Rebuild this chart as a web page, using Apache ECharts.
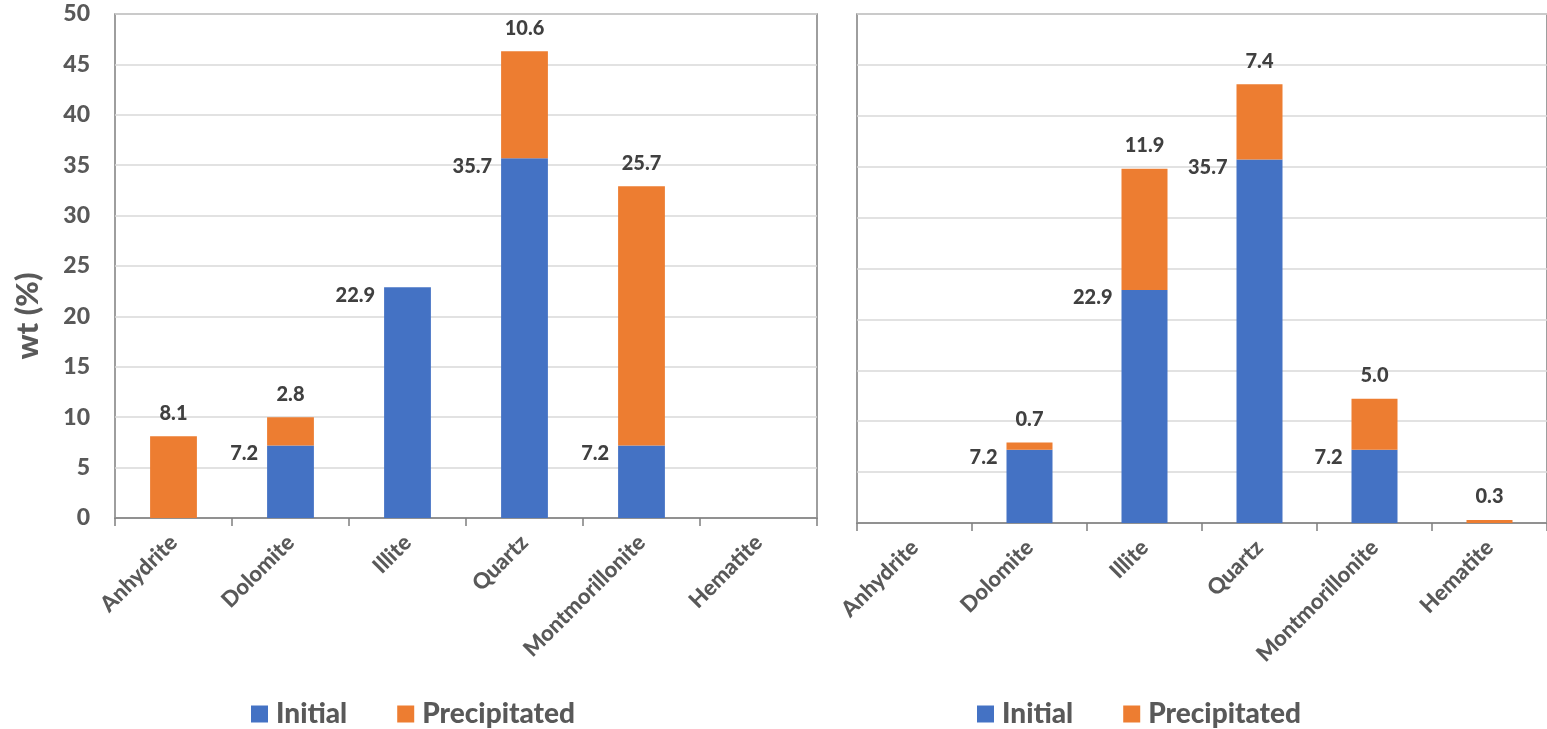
<!DOCTYPE html>
<html>
<head>
<meta charset="utf-8">
<script src="https://cdn.jsdelivr.net/npm/echarts@6/dist/echarts.min.js"></script>
<style>
  html, body { margin: 0; padding: 0; background: #ffffff; }
  #chart { width: 1547px; height: 729px; }
</style>
</head>
<body>
<div id="chart"></div>
<script>
// Mineral composition (wt %) for two cases, each a stacked bar of initial + precipitated amounts
const minerals = ['Anhydrite', 'Dolomite', 'Illite', 'Quartz', 'Montmorillonite', 'Hematite'];
const yTicks = [0, 5, 10, 15, 20, 25, 30, 35, 40, 45, 50];

const initialA = [0, 7.2, 22.9, 35.7, 7.2, 0];
const precipitatedA = [8.1, 2.8, 0, 10.6, 25.7, 0];

const initialB = [0, 7.2, 22.9, 35.7, 7.2, 0];
const precipitatedB = [0, 0.7, 11.9, 7.4, 5.0, 0.3];

const FONT = 'Lato';
const WEIGHT = 900;
const BLUE = '#4472C4';
const ORANGE = '#ED7D31';

const chart = echarts.init(document.getElementById('chart'));

function fmtNonZero(p) {
  return p.value > 0 ? p.value.toFixed(1) : '';
}

const initialLabel = {
  show: true,
  position: [-9, 8],
  align: 'right',
  verticalAlign: 'middle',
  formatter: fmtNonZero,
  color: '#404040',
  fontFamily: FONT,
  fontWeight: WEIGHT,
  fontSize: 20
};

const precipLabel = {
  show: true,
  position: 'top',
  distance: 13,
  formatter: fmtNonZero,
  color: '#404040',
  fontFamily: FONT,
  fontWeight: WEIGHT,
  fontSize: 20
};

function xAxisFor(gridIndex) {
  return {
    type: 'category',
    gridIndex: gridIndex,
    data: minerals,
    axisLine: { lineStyle: { color: '#7f7f7f', width: 1.5 } },
    axisTick: { show: true, length: 8, lineStyle: { color: '#7f7f7f', width: 1.5 } },
    axisLabel: {
      rotate: 45,
      margin: 21,
      color: '#595959',
      fontFamily: FONT,
      fontWeight: WEIGHT,
      fontSize: 22
    }
  };
}

function yAxisFor(gridIndex, showLabels) {
  return {
    type: 'value',
    gridIndex: gridIndex,
    min: yTicks[0],
    max: yTicks[yTicks.length - 1],
    interval: yTicks[1] - yTicks[0],
    axisLine: { show: false },
    axisTick: { show: false },
    splitLine: { lineStyle: { color: '#d9d9d9', width: 1.5 } },
    axisLabel: {
      show: showLabels,
      margin: 25,
      color: '#595959',
      fontFamily: FONT,
      fontWeight: WEIGHT,
      fontSize: 23
    }
  };
}

function legendAt(left) {
  return {
    left: left,
    top: 695,
    icon: 'rect',
    itemWidth: 17,
    itemHeight: 17,
    itemGap: 50,
    textStyle: {
      color: '#595959',
      fontFamily: FONT,
      fontWeight: WEIGHT,
      fontSize: 28,
      padding: [0, 0, 0, 3]
    },
    data: ['Initial', 'Precipitated']
  };
}

function stackPair(axisIndex, initial, precipitated, stackId) {
  return [
    {
      name: 'Initial',
      type: 'bar',
      stack: stackId,
      xAxisIndex: axisIndex,
      yAxisIndex: axisIndex,
      data: initial,
      barWidth: '40%',
      itemStyle: { color: BLUE },
      label: initialLabel
    },
    {
      name: 'Precipitated',
      type: 'bar',
      stack: stackId,
      xAxisIndex: axisIndex,
      yAxisIndex: axisIndex,
      data: precipitated,
      barWidth: '40%',
      itemStyle: { color: ORANGE },
      label: precipLabel
    }
  ];
}

chart.setOption({
  animation: false,
  backgroundColor: '#ffffff',
  grid: [
    { left: 115, top: 14, width: 702, height: 504, show: true, borderColor: '#7f7f7f', borderWidth: 1.5, backgroundColor: 'transparent' },
    { left: 857, top: 14, width: 702, height: 509, show: true, borderColor: '#7f7f7f', borderWidth: 1.5, backgroundColor: 'transparent' }
  ],
  xAxis: [xAxisFor(0), xAxisFor(1)],
  yAxis: [yAxisFor(0, true), yAxisFor(1, false)],
  legend: [legendAt(246), legendAt(972)],
  graphic: [
    {
      type: 'text',
      x: 28,
      y: 316,
      rotation: Math.PI / 2,
      style: {
        text: 'wt (%)',
        fill: '#595959',
        font: WEIGHT + ' 31px ' + FONT,
        align: 'center',
        verticalAlign: 'middle'
      }
    }
  ],
  series: [
    ...stackPair(0, initialA, precipitatedA, 'caseA'),
    ...stackPair(1, initialB, precipitatedB, 'caseB')
  ]
});
</script>
</body>
</html>
